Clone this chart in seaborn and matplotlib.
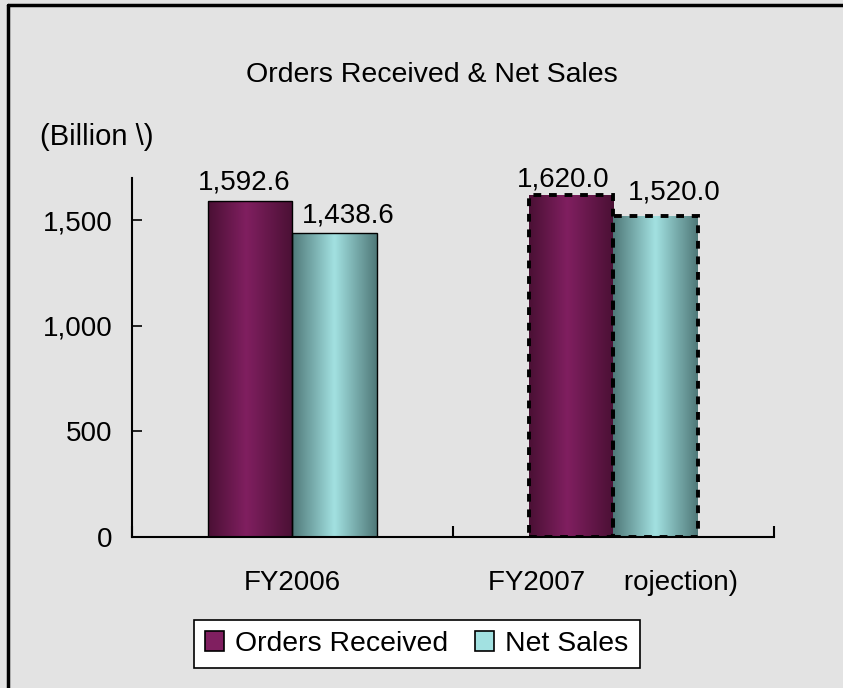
import numpy as np
import pandas as pd
import seaborn as sns
import matplotlib.pyplot as plt
from matplotlib.colors import LinearSegmentedColormap
from matplotlib.patches import Patch
from matplotlib.lines import Line2D

categories = ["FY2006", "FY2007     rojection)"]
orders_received = [1592.6, 1620.0]
net_sales = [1438.6, 1520.0]
series_names = ["Orders Received", "Net Sales"]
y_ticks = [0, 500, 1000, 1500]
y_tick_labels = ["0", "500", "1,000", "1,500"]

df = pd.DataFrame({
    "year": categories * 2,
    "series": [series_names[0]] * 2 + [series_names[1]] * 2,
    "value": orders_received + net_sales,
})

sns.set_style("white")
plt.rcParams["font.family"] = ["Liberation Sans", "DejaVu Sans"]
plt.rcParams["text.color"] = "black"
plt.rcParams["xtick.color"] = "black"
plt.rcParams["ytick.color"] = "black"

bg = "#e3e3e3"
purple_dark, purple_light = "#4a1034", "#801f60"
cyan_dark, cyan_light = "#4f7878", "#a2e1e1"

fig = plt.figure(figsize=(8.43, 6.88), dpi=100, facecolor=bg)
ax = fig.add_axes([0.1566, 0.2195, 0.918 - 0.1566, 0.7413 - 0.2195])
ax.set_facecolor(bg)

sns.barplot(data=df, x="year", y="value", hue="series", order=categories,
            hue_order=series_names, width=0.528, ax=ax, legend=False,
            palette=[purple_light, cyan_light], saturation=1)

cmaps = [
    LinearSegmentedColormap.from_list("p", [(0, purple_dark), (0.45, purple_light), (1, purple_dark)]),
    LinearSegmentedColormap.from_list("c", [(0, cyan_dark), (0.5, cyan_light), (1, cyan_dark)]),
]
grad = np.linspace(0, 1, 256).reshape(1, -1)

# label offsets in pixels (dx, dy) roughly as the original places them
label_shift = [[(-6, 5), (-8, 2)], [(13, 5), (18, 10)]]

for ci, cont in enumerate(ax.containers):
    for j, bar in enumerate(cont):
        x, w, h = bar.get_x(), bar.get_width(), bar.get_height()
        im = ax.imshow(grad, extent=[x, x + w, 0, h], cmap=cmaps[ci],
                       aspect="auto", zorder=2, interpolation="bicubic")
        im.set_clip_path(bar)
        bar.set_facecolor("none")
        bar.set_zorder(3)
        bar.set_edgecolor("black")
        if j == 1:
            bar.set_linewidth(2.8)
            bar.set_linestyle((0, (2.0, 2.0)))
        else:
            bar.set_linewidth(1.0)
        dx, dy = label_shift[ci][j]
        ax.annotate(f"{h:,.1f}", (x + w / 2, h), xytext=(dx * 0.72, dy * 0.72),
                    textcoords="offset points", ha="center", va="bottom",
                    fontsize=20, zorder=6, color="black")

ax.set_xlim(-0.5, 1.5)
ax.set_ylim(0, 1700)
ax.set_yticks(y_ticks)
ax.set_yticklabels(y_tick_labels, fontsize=20)
ax.tick_params(axis="y", direction="in", length=7, width=1.2, left=True, pad=14,
               color="black", labelcolor="black")
ax.set_xticks([0, 1])
ax.set_xticklabels(categories, fontsize=20)
ax.tick_params(axis="x", which="major", length=0, pad=24, labelcolor="black")
ax.set_xticks([-0.5, 0.5, 1.5], minor=True)
ax.tick_params(axis="x", which="minor", direction="in", length=8, width=1.5, bottom=True, color="black")
ax.set_xlabel("")
ax.set_ylabel("")
for s in ["top", "right"]:
    ax.spines[s].set_visible(False)
for s in ["left", "bottom"]:
    ax.spines[s].set_color("black")
    ax.spines[s].set_linewidth(1.5)

fig.text(432 / 843, 1 - 75 / 688, "Orders Received & Net Sales", ha="center", va="center",
         fontsize=20.5, color="black")
fig.text(40 / 843, 1 - 137 / 688, "(Billion \\)", ha="left", va="center", fontsize=21, color="black")

handles = [Patch(facecolor=purple_light, edgecolor="black", linewidth=1.2),
           Patch(facecolor=cyan_light, edgecolor="black", linewidth=1.2)]
leg = fig.legend(handles, series_names, loc="center", bbox_to_anchor=(417 / 843, 1 - 644 / 688),
                 ncol=2, fontsize=20.4, frameon=True, fancybox=False, framealpha=1,
                 facecolor="white", edgecolor="black", handlelength=0.67,
                 handleheight=0.67, handletextpad=0.39, columnspacing=0.95,
                 borderpad=0.4, labelcolor="black")
leg.get_frame().set_linewidth(1.2)

fig.add_artist(Line2D([8 / 843, 1], [1 - 5 / 688, 1 - 5 / 688], color="black", lw=2.5))
fig.add_artist(Line2D([8 / 843, 8 / 843], [0, 1 - 5 / 688], color="black", lw=2.5))

fig.savefig("out.png", dpi=100, facecolor=bg)
